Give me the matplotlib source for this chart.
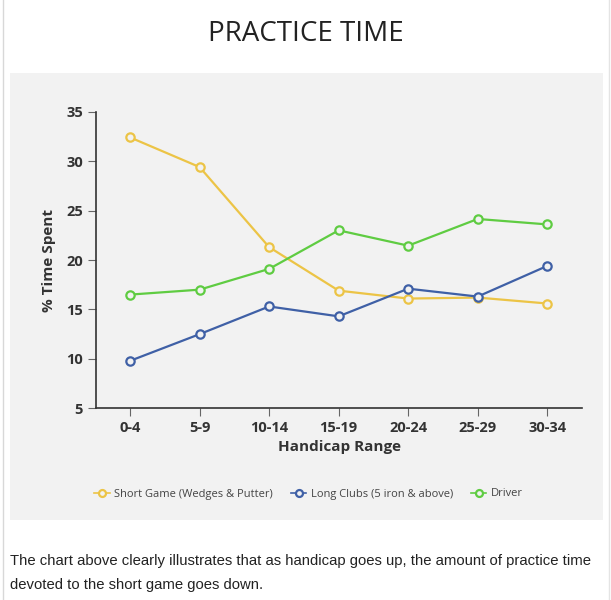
import matplotlib.pyplot as plt
from matplotlib.patches import Rectangle
from matplotlib.lines import Line2D

# Data
handicap = ['0-4', '5-9', '10-14', '15-19', '20-24', '25-29', '30-34']
short_game = [32.4, 29.4, 21.3, 16.9, 16.1, 16.2, 15.6]
long_clubs = [9.8, 12.5, 15.3, 14.3, 17.1, 16.3, 19.4]
driver = [16.5, 17.0, 19.1, 23.0, 21.45, 24.15, 23.6]

series = [
    ('Short Game (Wedges & Putter)', short_game, '#ecc446'),
    ('Long Clubs (5 iron & above)', long_clubs, '#3f60a6'),
    ('Driver', driver, '#5fcc42'),
]

panel_color = '#f2f2f2'
text_color = '#333333'

fig = plt.figure(figsize=(6.11, 6.0), dpi=100)
fig.patch.set_facecolor('white')

# gray panel behind the chart
fig.add_artist(Rectangle((10 / 611, 1 - 520 / 600), 593 / 611, 447 / 600,
                         transform=fig.transFigure, facecolor=panel_color,
                         edgecolor='none', zorder=0))
# page border lines
fig.add_artist(Line2D([3 / 611, 3 / 611], [0, 1], transform=fig.transFigure,
                      color='#d8d8d8', lw=1))
fig.add_artist(Line2D([609 / 611, 609 / 611], [0, 1], transform=fig.transFigure,
                      color='#e4e4e4', lw=1))

fig.text(0.5, 1 - 34 / 600, 'PRACTICE TIME', ha='center', va='center',
         fontsize=20, family='Open Sans', color='#222222')

ax = fig.add_axes([96 / 611, 1 - 408.3 / 600, 486 / 611, 296.6 / 600])
ax.set_facecolor(panel_color)
ax.patch.set_alpha(0)

x = range(len(handicap))
handles = []
for name, vals, col in series:
    h, = ax.plot(x, vals, color=col, lw=1.6, marker='o', markersize=6,
                 markerfacecolor=panel_color, markeredgecolor=col,
                 markeredgewidth=1.6, label=name, zorder=3)
    handles.append(h)

ax.set_xlim(-0.49, 6.5)
ax.set_ylim(5, 35)
ax.set_yticks([5, 10, 15, 20, 25, 30, 35])
ax.set_xticks(list(x))
ax.set_xticklabels(handicap)

for s in ['top', 'right']:
    ax.spines[s].set_visible(False)
for s in ['left', 'bottom']:
    ax.spines[s].set_color('#333333')
    ax.spines[s].set_linewidth(1.2)

ax.tick_params(axis='both', direction='out', length=6, width=0.8,
               color='#666666', labelcolor=text_color, labelsize=10.5)
for lab in ax.get_xticklabels() + ax.get_yticklabels():
    lab.set_fontweight('bold')
    lab.set_family('Open Sans')

ax.set_xlabel('Handicap Range', fontsize=11, fontweight='bold',
              family='Open Sans', color=text_color, labelpad=3)
ax.set_ylabel('% Time Spent', fontsize=11, fontweight='bold',
              family='Open Sans', color=text_color, labelpad=7)

leg = fig.legend(handles=handles, loc='center', bbox_to_anchor=(0.505, 1 - 494 / 600),
                 ncol=3, frameon=False, handlelength=1.4,
                 handletextpad=0.4, columnspacing=1.6,
                 prop={'family': 'Open Sans', 'size': 8})
for t in leg.get_texts():
    t.set_color('#444444')
for lh in leg.get_lines():
    lh.set_markersize(5)
    lh.set_linewidth(1.2)

fig.text(10 / 611, 1 - 561 / 600,
         'The chart above clearly illustrates that as handicap goes up, the amount of practice time',
         ha='left', va='center', fontsize=10.7, family='Liberation Sans', color='#222222')
fig.text(10 / 611, 1 - 585 / 600,
         'devoted to the short game goes down.',
         ha='left', va='center', fontsize=10.7, family='Liberation Sans', color='#222222')

fig.savefig('out.png', dpi=100)
